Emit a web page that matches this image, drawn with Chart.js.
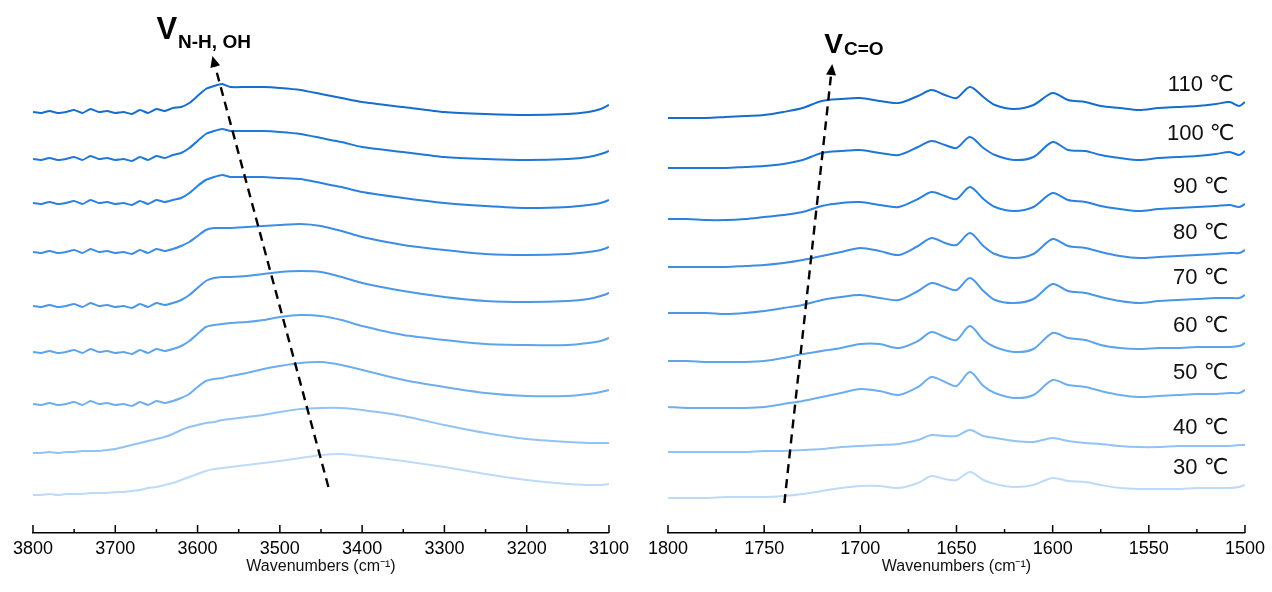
<!DOCTYPE html>
<html>
<head>
<meta charset="utf-8">
<script src="https://cdn.jsdelivr.net/npm/chart.js@4.4.1/dist/chart.umd.min.js"></script>
<style>
  body { margin: 0; background: #fff; }
  .panel { position: absolute; top: 0; width: 636px; height: 592px; }
</style>
</head>
<body>
<div class="panel" style="left:0"><canvas id="left" width="636" height="592"></canvas></div>
<div class="panel" style="left:636px"><canvas id="right" width="636" height="592"></canvas></div>
<script>
// temperatures, bottom (30) to top (110)
const temps = ['30 ℃', '40 ℃', '50 ℃', '60 ℃', '70 ℃', '80 ℃', '90 ℃', '100 ℃', '110 ℃']
const colors = ['#bddbf8', '#93c3f3', '#6eaeee', '#5ea4eb', '#4b97e6', '#3e8de3', '#2b81dd', '#2078d6', '#176dcd']

// N-H / O-H region (offset intensity, stacked)
const leftX = [3800, 3790, 3780, 3770, 3760, 3750, 3740, 3730, 3720, 3710, 3700, 3690, 3680, 3670, 3660, 3650, 3640,
  3630, 3620, 3610, 3600, 3590, 3580, 3570, 3560, 3540, 3520, 3500, 3475, 3450, 3425, 3400,
  3350, 3300, 3250, 3200, 3150, 3125, 3110, 3100]
const left30 = [38, 38, 39, 38, 39, 39, 39, 40, 40, 40, 41, 41, 42, 43, 45, 46, 48, 50, 53, 56, 59, 62, 64, 65, 66, 68, 70, 72, 75, 78, 79, 77, 72, 66, 59, 53, 49, 48, 48, 49]
const left40 = [80, 80, 81, 80, 81, 81, 82, 82, 82, 83, 84, 86, 88, 90, 92, 94, 96, 99, 103, 106, 108, 110, 111, 113, 114, 116, 118, 121, 124, 125, 125, 123, 117, 108, 100, 94, 91, 90, 90, 90]
const left50 = [129, 128, 130, 128, 129, 131, 128, 132, 129, 130, 128, 129, 127, 131, 128, 132, 130, 132, 135, 139, 146, 152, 154, 155, 157, 160, 164, 167, 170, 171, 168, 163, 153, 146, 140, 137, 137, 139, 141, 143]
const left60 = [181, 180, 182, 180, 181, 183, 180, 184, 181, 182, 180, 181, 179, 183, 180, 184, 182, 184, 187, 192, 199, 206, 208, 209, 210, 211, 213, 216, 218, 217, 213, 207, 198, 193, 189, 188, 188, 190, 192, 195]
const left70 = [227, 226, 228, 226, 227, 229, 226, 230, 227, 228, 226, 227, 225, 229, 226, 230, 228, 230, 233, 238, 245, 252, 255, 256, 256, 257, 259, 261, 262, 261, 256, 250, 242, 236, 232, 231, 232, 234, 237, 240]
const left80 = [281, 280, 282, 280, 281, 283, 280, 284, 281, 282, 280, 281, 279, 283, 280, 284, 282, 284, 287, 291, 297, 303, 305, 305, 305, 306, 307, 308, 309, 307, 302, 296, 288, 283, 279, 278, 279, 281, 283, 286]
const left90 = [330, 329, 331, 329, 330, 332, 329, 333, 330, 331, 329, 330, 328, 332, 329, 333, 331, 333, 335, 340, 347, 353, 356, 358, 356, 356, 356, 355, 354, 350, 346, 341, 335, 330, 327, 325, 326, 328, 330, 333]
const left100 = [374, 373, 375, 373, 374, 376, 373, 377, 374, 375, 373, 374, 372, 376, 373, 377, 375, 378, 380, 385, 392, 399, 402, 404, 402, 402, 402, 401, 399, 395, 391, 386, 381, 376, 374, 373, 374, 376, 379, 382]
const left110 = [421, 420, 422, 420, 421, 423, 420, 424, 421, 422, 420, 421, 419, 423, 420, 424, 422, 425, 426, 430, 437, 444, 447, 449, 446, 446, 446, 445, 443, 439, 435, 431, 426, 421, 419, 418, 419, 421, 424, 428]

// C=O region
const rightX = [1800, 1790, 1780, 1770, 1760, 1750, 1740, 1730, 1720, 1710, 1700, 1690, 1680, 1670,
  1663, 1656, 1650, 1643, 1636, 1630, 1620, 1610, 1600, 1592, 1583, 1575,
  1565, 1555, 1545, 1535, 1525, 1515, 1508, 1503, 1500]
const right30 = [35, 35, 35, 36, 36, 36, 37, 39, 42, 45, 47, 47, 45, 50, 57, 54, 53, 61, 53, 49, 46, 48, 55, 52, 51, 48, 45, 44, 44, 44, 45, 45, 45, 46, 48]
const right40 = [81, 81, 81, 81, 81, 82, 82, 83, 84, 86, 87, 88, 89, 93, 98, 97, 97, 103, 97, 95, 92, 91, 95, 92, 90, 89, 87, 86, 86, 87, 87, 87, 87, 88, 88]
const right50 = [126, 125, 125, 125, 125, 126, 129, 132, 136, 140, 144, 142, 138, 146, 156, 151, 147, 161, 147, 140, 135, 138, 153, 148, 146, 142, 138, 136, 137, 138, 139, 139, 140, 140, 143]
const right60 = [172, 172, 171, 171, 171, 172, 175, 179, 182, 185, 189, 189, 185, 192, 201, 196, 193, 207, 193, 186, 181, 184, 200, 195, 193, 188, 185, 184, 185, 185, 186, 186, 186, 187, 190]
const right70 = [220, 220, 220, 219, 220, 222, 225, 228, 233, 236, 238, 235, 233, 242, 250, 246, 243, 255, 242, 233, 230, 234, 249, 242, 240, 236, 232, 230, 232, 233, 234, 235, 235, 235, 238]
const right80 = [266, 266, 266, 266, 267, 268, 270, 273, 277, 281, 285, 282, 278, 287, 295, 290, 288, 300, 287, 279, 275, 279, 294, 287, 285, 281, 277, 275, 276, 277, 278, 279, 280, 280, 283]
const right90 = [314, 314, 313, 313, 314, 316, 318, 321, 327, 330, 331, 328, 326, 334, 341, 337, 334, 346, 334, 326, 322, 326, 340, 333, 331, 327, 324, 322, 324, 325, 326, 327, 328, 326, 329]
const right100 = [365, 365, 365, 365, 366, 367, 369, 373, 380, 382, 383, 380, 378, 386, 392, 388, 385, 396, 385, 378, 373, 376, 391, 383, 382, 378, 375, 373, 375, 376, 377, 379, 381, 378, 382]
const right110 = [415, 415, 415, 416, 417, 418, 421, 425, 432, 434, 435, 432, 430, 437, 443, 438, 435, 446, 436, 428, 424, 428, 440, 433, 431, 427, 425, 423, 425, 426, 427, 429, 431, 427, 431]

// shift arrows [bottom, top] as [wavenumber, offset]
const arrowNH = [[3441, 46], [3582, 477]]
const arrowCO = [[1739.5, 30], [1714.6, 469]]

const leftSeries = [left30, left40, left50, left60, left70, left80, left90, left100, left110]
const rightSeries = [right30, right40, right50, right60, right70, right80, right90, right100, right110]

const makeSets = (xs, series, tension) => series.map((ys, i) => ({
  label: temps[i],
  data: ys.map((y, j) => ({ x: xs[j], y: y })),
  borderColor: colors[i],
  borderWidth: 2,
  pointRadius: 0,
  tension: tension,
  fill: false
}))

// draws the inward ticks, the dashed arrow, the nu label and the temperature labels
const overlay = (opt) => ({
  id: 'overlay',
  afterDatasetsDraw(chart) {
    const { ctx, chartArea } = chart
    const x = chart.scales.x, y = chart.scales.y
    ctx.save()

    // ticks pointing up from the axis
    ctx.strokeStyle = '#000'
    ctx.lineWidth = 1.5
    const vals = x.ticks.map(t => t.value)
    ctx.beginPath()
    vals.forEach((v, i) => {
      const px = x.getPixelForValue(v)
      ctx.moveTo(px, chartArea.bottom)
      ctx.lineTo(px, chartArea.bottom - 8)
      if (i < vals.length - 1) {
        const mx = x.getPixelForValue((v + vals[i + 1]) / 2)
        ctx.moveTo(mx, chartArea.bottom)
        ctx.lineTo(mx, chartArea.bottom - 4)
      }
    })
    ctx.stroke()

    // dashed arrow
    const x0 = x.getPixelForValue(opt.arrow[0][0]), y0 = y.getPixelForValue(opt.arrow[0][1])
    const x1 = x.getPixelForValue(opt.arrow[1][0]), y1 = y.getPixelForValue(opt.arrow[1][1])
    const ang = Math.atan2(y1 - y0, x1 - x0)
    const head = 11
    ctx.strokeStyle = '#000'
    ctx.lineWidth = 2.4
    ctx.setLineDash([9, 6])
    ctx.beginPath()
    ctx.moveTo(x0, y0)
    ctx.lineTo(x1 - Math.cos(ang) * head, y1 - Math.sin(ang) * head)
    ctx.stroke()
    ctx.setLineDash([])
    ctx.fillStyle = '#000'
    ctx.beginPath()
    ctx.moveTo(x1, y1)
    ctx.lineTo(x1 - Math.cos(ang) * head + Math.sin(ang) * 5, y1 - Math.sin(ang) * head - Math.cos(ang) * 5)
    ctx.lineTo(x1 - Math.cos(ang) * head - Math.sin(ang) * 5, y1 - Math.sin(ang) * head + Math.cos(ang) * 5)
    ctx.closePath()
    ctx.fill()

    // nu label
    ctx.textAlign = 'left'
    ctx.textBaseline = 'alphabetic'
    ctx.font = 'bold ' + opt.vSize + 'px "Liberation Sans", Arial, sans-serif'
    const vx = x1 + opt.vdx, vy = y1 + opt.vdy
    ctx.fillText('V', vx, vy)
    const vw = ctx.measureText('V').width
    ctx.font = 'bold 19px "Liberation Sans", Arial, sans-serif'
    ctx.fillText(opt.sub, vx + vw + 1, vy + opt.subDy)

    // temperature labels above each trace
    if (opt.temps) {
      ctx.fillStyle = '#111'
      ctx.font = '22px "Liberation Sans", "DejaVu Sans", sans-serif'
      ctx.textAlign = 'center'
      ctx.textBaseline = 'middle'
      chart.data.datasets.forEach((ds, i) => {
        const last = ds.data[ds.data.length - 1].y
        ctx.fillText(temps[i], x.getPixelForValue(1523), y.getPixelForValue(last) - 17)
      })
    }
    ctx.restore()
  }
})

const makeChart = (id, xs, series, min, max, step, pad, tension, opt) => new Chart(document.getElementById(id), {
  type: 'line',
  data: { datasets: makeSets(xs, series, tension) },
  options: {
    responsive: false,
    animation: false,
    layout: { padding: pad },
    plugins: { legend: { display: false }, tooltip: { enabled: false } },
    scales: {
      x: {
        type: 'linear',
        reverse: true,
        min: min,
        max: max,
        grid: { display: false, drawTicks: false },
        border: { display: true, color: '#000', width: 1.5 },
        ticks: {
          stepSize: step,
          color: '#000',
          padding: 7,
          font: { size: 18, family: '"Liberation Sans", Arial, sans-serif', lineHeight: 1 },
          callback: v => String(v)
        },
        title: {
          display: true,
          text: 'Wavenumbers (cm⁻¹)',
          color: '#111',
          font: { size: 16, family: '"Liberation Sans", Arial, sans-serif', lineHeight: 1 },
          padding: { top: -6, bottom: 4 }
        }
      },
      y: { display: false, min: 0, max: 533 }
    }
  },
  plugins: [overlay(opt)]
})

makeChart('left', leftX, leftSeries, 3100, 3800, 100,
  { left: 33, right: 24, top: 0, bottom: 13 }, 0.18,
  { arrow: arrowNH, sub: 'N-H, OH', vSize: 31, vdx: -56, vdy: -17, subDy: 9, temps: false })
makeChart('right', rightX, rightSeries, 1500, 1800, 50,
  { left: 32, right: 24, top: 0, bottom: 13 }, 0.3,
  { arrow: arrowCO, sub: 'C=O', vSize: 28, vdx: -8, vdy: -11, subDy: 2, temps: true })
</script>
</body>
</html>
